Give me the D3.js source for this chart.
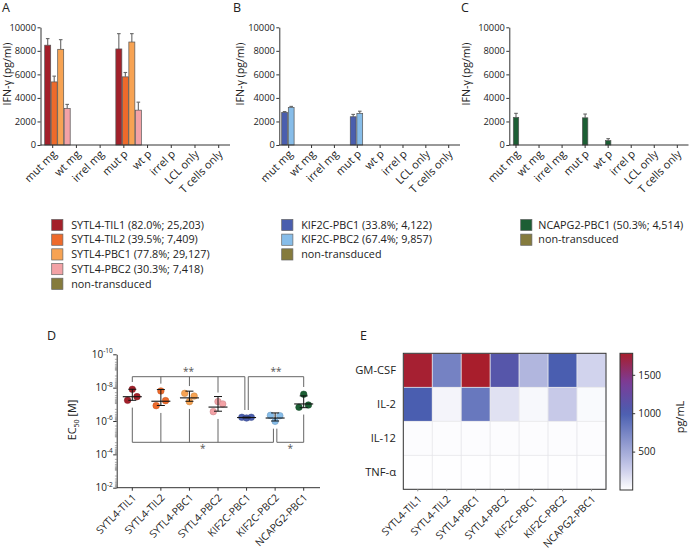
<!DOCTYPE html>
<html>
<head>
<meta charset="utf-8">
<script src="https://cdn.jsdelivr.net/npm/d3@7"></script>
<style>
body { margin: 0; background: #fff; }
svg { font-family: 'Open Sans', sans-serif; }
.axis path, .axis line { stroke: #333; stroke-width: 1; }
.axis text { font-size: 9.3px; fill: #222; font-family: 'Open Sans', sans-serif; }
.lbl { font-size: 11px; fill: #222; }
.letter { font-size: 12.5px; fill: #222; }
</style>
</head>
<body>
<svg id="fig" width="689" height="552"></svg>
<script>
// ---- data ----
const ifnCategories = ['mut mg', 'wt mg', 'irrel mg', 'mut p', 'wt p', 'irrel p', 'LCL only', 'T cells only'];
const ifnTicks = [0, 2000, 4000, 6000, 8000, 10000];

// panel A (IFN-g pg/ml, mean and SD per category)
const seriesA = ['SYTL4-TIL1 (82.0%; 25,203)', 'SYTL4-TIL2 (39.5%; 7,409)',
                 'SYTL4-PBC1 (77.8%; 29,127)', 'SYTL4-PBC2 (30.3%; 7,418)', 'non-transduced'];
const meanA = [
  [8480, 0, 0, 8160, 0, 0, 0, 0],
  [5360, 0, 0, 5790, 0, 0, 0, 0],
  [8130, 0, 0, 8750, 0, 0, 0, 0],
  [3110, 0, 0, 2960, 0, 0, 0, 0],
  [0, 0, 0, 0, 0, 0, 0, 0]
];
const sdA = [
  [560, 0, 0, 1300, 0, 0, 0, 0],
  [490, 0, 0, 370, 0, 0, 0, 0],
  [820, 0, 0, 710, 0, 0, 0, 0],
  [340, 0, 0, 680, 0, 0, 0, 0],
  [0, 0, 0, 0, 0, 0, 0, 0]
];

// panel B
const seriesB = ['KIF2C-PBC1 (33.8%; 4,122)', 'KIF2C-PBC2 (67.4%; 9,857)', 'non-transduced'];
const meanB = [
  [2770, 0, 0, 2400, 0, 0, 0, 0],
  [3190, 0, 0, 2690, 0, 0, 0, 0],
  [0, 0, 0, 0, 0, 0, 0, 0]
];
const sdB = [
  [70, 0, 0, 200, 0, 0, 0, 0],
  [90, 0, 0, 180, 0, 0, 0, 0],
  [0, 0, 0, 0, 0, 0, 0, 0]
];

// panel C
const seriesC = ['NCAPG2-PBC1 (50.3%; 4,514)', 'non-transduced'];
const meanC = [
  [2350, 0, 0, 2310, 370, 0, 0, 0],
  [0, 0, 0, 0, 0, 0, 0, 0]
];
const sdC = [
  [340, 0, 0, 320, 170, 0, 0, 0],
  [0, 0, 0, 0, 0, 0, 0, 0]
];

// panel D (EC50 in M, three replicates per TCR)
const tcrNames = ['SYTL4-TIL1', 'SYTL4-TIL2', 'SYTL4-PBC1', 'SYTL4-PBC2', 'KIF2C-PBC1', 'KIF2C-PBC2', 'NCAPG2-PBC1'];
const ec50Values = [
  [5.75e-8, 1.26e-8, 3.47e-8],
  [1.2e-7, 1.58e-8, 6.0e-8],
  [2.2e-8, 6.9e-8, 3.2e-8],
  [2.75e-7, 6.9e-8, 9.5e-8],
  [6.0e-7, 6.6e-7, 6.0e-7],
  [4.6e-7, 1.05e-6, 4.8e-7],
  [1.5e-7, 2.5e-8, 1.1e-7]
];
const ec50Ticks = [1e-10, 1e-8, 1e-6, 1e-4, 1e-2];
const sigBrackets = [
  {groups: [0, 1, 2, 3, 4], side: 'top', label: '**'},
  {groups: [4, 6], side: 'top', label: '**'},
  {groups: [0, 1, 2, 3, 5], side: 'bottom', label: '*'},
  {groups: [5, 6], side: 'bottom', label: '*'}
];

// panel E (pg/mL)
const cytokines = ['GM-CSF', 'IL-2', 'IL-12', 'TNF-α'];
const gmcsf = [1760, 760, 1780, 1100, 420, 1000, 240];
const il2 = [1000, 60, 830, 165, 40, 295, 30];
const il12 = [15, 15, 15, 15, 15, 15, 15];
const tnfa = [4, 4, 4, 4, 4, 4, 4];
const colorbarTicks = [500, 1000, 1500];
const colorbarMax = 1780;

// ---- styles ----
const colorsA = ['#a3202a', '#ee6a2b', '#f7a353', '#f3a2a6', '#857b3d'];
const colorsB = ['#4a5eae', '#87bde9', '#857b3d'];
const colorsC = ['#1c5e34', '#857b3d'];
const tcrColors = ['#a3202a', '#ee6a2b', '#f7a353', '#f3a2a6', '#4a5eae', '#87bde9', '#1c5e34'];

const svg = d3.select('#fig');

function addLetter(x, y, t) {
  svg.append('text').attr('class', 'letter').attr('x', x).attr('y', y).text(t);
}

function barPanel(p) {
  const y = d3.scaleLinear().domain([0, 10000]).range([p.y0, p.yTop]);
  const x = d3.scalePoint().domain(ifnCategories).range([p.first, p.last]);
  const g = svg.append('g');

  // bars with upward SD
  p.means.forEach((vals, s) => {
    vals.forEach((v, i) => {
      if (!v) return;
      const bx = x(ifnCategories[i]) + p.offset + s * p.step;
      const cx = bx + p.barW / 2;
      const top = y(v + p.sds[s][i]);
      g.append('line')
        .attr('x1', cx).attr('x2', cx)
        .attr('y1', y(v)).attr('y2', top)
        .style('stroke', '#666').style('stroke-width', 1.1);
      g.append('line')
        .attr('x1', cx - 1.8).attr('x2', cx + 1.8)
        .attr('y1', top).attr('y2', top)
        .style('stroke', '#666').style('stroke-width', 1.1);
      g.append('rect')
        .attr('x', bx).attr('y', y(v))
        .attr('width', p.barW).attr('height', y(0) - y(v))
        .style('fill', p.colors[s])
        .style('stroke', '#555').style('stroke-width', 0.7);
    });
  });

  // axes
  g.append('g')
    .attr('class', 'axis')
    .attr('transform', `translate(${p.axisX},0)`)
    .call(d3.axisLeft(y).tickValues(ifnTicks).tickSize(3).tickSizeOuter(0).tickPadding(1.5).tickFormat(d3.format('d')));
  g.append('line')
    .attr('x1', p.axisX).attr('x2', p.axisEnd)
    .attr('y1', p.y0).attr('y2', p.y0)
    .style('stroke', '#333');
  ifnCategories.forEach(c => {
    g.append('line')
      .attr('x1', x(c)).attr('x2', x(c))
      .attr('y1', p.y0).attr('y2', p.y0 + 3)
      .style('stroke', '#333');
    g.append('text')
      .attr('class', 'lbl')
      .attr('text-anchor', 'end')
      .attr('dy', '.35em')
      .attr('transform', `translate(${x(c) + 2},${p.y0 + 7}) rotate(-45)`)
      .text(c);
  });
  g.append('text')
    .attr('class', 'lbl')
    .attr('text-anchor', 'middle')
    .style('font-size', '10.6px')
    .attr('transform', `translate(${p.labelX},74) rotate(-90)`)
    .text('IFN-γ (pg/ml)');

  // legend
  const leg = g.selectAll('.leg')
    .data(p.series)
    .enter().append('g')
    .attr('transform', (_, i) => `translate(${p.legX},${225 + i * 14.7})`);
  leg.append('rect')
    .attr('x', 0).attr('y', -5.6)
    .attr('width', 11.2).attr('height', 11.2)
    .style('fill', (_, i) => p.colors[i])
    .style('stroke', '#666').style('stroke-width', 0.7);
  leg.append('text')
    .attr('class', 'lbl')
    .attr('x', p.legTextDx)
    .attr('dy', '.35em')
    .style('font-size', '10.8px')
    .text(d => d);
}

barPanel({means: meanA, sds: sdA, series: seriesA, colors: colorsA,
  axisX: 40.5, axisEnd: 230, first: 52.7, last: 218.7, y0: 145, yTop: 27.3,
  offset: -8, step: 6.5, barW: 6, labelX: 11, legX: 51.7, legTextDx: 19.5});
barPanel({means: meanB, sds: sdB, series: seriesB, colors: colorsB,
  axisX: 279.3, axisEnd: 460, first: 288.7, last: 448.7, y0: 145, yTop: 27.3,
  offset: -7, step: 6.6, barW: 5.8, labelX: 243.5, legX: 281.7, legTextDx: 19.5});
barPanel({means: meanC, sds: sdC, series: seriesC, colors: colorsC,
  axisX: 509.3, axisEnd: 688.5, first: 516, last: 677.3, y0: 145, yTop: 27.3,
  offset: -2.7, step: 6.6, barW: 5.4, labelX: 470, legX: 520.7, legTextDx: 17.6});

addLetter(2, 12, 'A');
addLetter(233, 12, 'B');
addLetter(461, 12, 'C');

// ---- panel D ----
function ec50Panel() {
  const left = 116.7, right = 320, top = 354.3, bottom = 487.7;
  const y = d3.scaleLog().domain([1e-10, 1e-2]).range([top, bottom]);
  const x = d3.scalePoint().domain(tcrNames).range([132.3, 303.7]);
  const g = svg.append('g');
  const r = 3.3;

  const stats = ec50Values.map(vals => {
    const m = d3.mean(vals);
    const sd = d3.deviation(vals);
    const ys = vals.map(v => y(v));
    return {m, sd, lo: m - sd, hi: m + sd,
      minY: Math.min(d3.min(ys) - r, y(m - sd)), maxY: Math.max(d3.max(ys) + r, y(m + sd))};
  });

  // significance brackets
  const bracketY = {top: 376.7, bottom: 442.3};
  sigBrackets.forEach(b => {
    const xs = b.groups.map((gi, k) => {
      let px = x(tcrNames[gi]);
      const last = k === b.groups.length - 1;
      const shared = sigBrackets.some(o => o !== b && o.side === b.side &&
        (last ? o.groups[0] === gi : o.groups[o.groups.length - 1] === gi));
      if (shared) px += last ? -1.7 : 1.7;
      return px;
    });
    const by = bracketY[b.side];
    g.append('line')
      .attr('x1', xs[0]).attr('x2', xs[xs.length - 1])
      .attr('y1', by).attr('y2', by)
      .style('stroke', '#666').style('stroke-width', 1);
    b.groups.forEach((gi, k) => {
      const end = b.side === 'top' ? stats[gi].minY - 4 : stats[gi].maxY + 4;
      g.append('line')
        .attr('x1', xs[k]).attr('x2', xs[k])
        .attr('y1', by).attr('y2', end)
        .style('stroke', '#666').style('stroke-width', 1);
    });
    g.append('text')
      .attr('x', (xs[0] + xs[xs.length - 1]) / 2)
      .attr('y', b.side === 'top' ? by - 2 : by + 10)
      .attr('text-anchor', 'middle')
      .style('font-size', '10px').style('fill', '#555')
      .text(b.label);
  });

  // points, mean and SD
  ec50Values.forEach((vals, gi) => {
    const cx = x(tcrNames[gi]);
    vals.forEach((v, k) => {
      g.append('circle')
        .attr('cx', cx + (k - 1) * 4.7).attr('cy', y(v)).attr('r', r)
        .style('fill', tcrColors[gi])
        .style('stroke', d3.color(tcrColors[gi]).darker(0.6)).style('stroke-width', 0.5);
    });
    const s = stats[gi];
    g.append('line')
      .attr('x1', cx - 9.5).attr('x2', cx + 9.5)
      .attr('y1', y(s.m)).attr('y2', y(s.m))
      .style('stroke', '#111').style('stroke-width', 1.1);
    g.append('line')
      .attr('x1', cx).attr('x2', cx)
      .attr('y1', y(s.hi)).attr('y2', y(s.lo))
      .style('stroke', '#111').style('stroke-width', 1);
    [s.hi, s.lo].forEach(v => {
      g.append('line')
        .attr('x1', cx - 4).attr('x2', cx + 4)
        .attr('y1', y(v)).attr('y2', y(v))
        .style('stroke', '#111').style('stroke-width', 1);
    });
  });

  // log y axis with minor ticks
  const minor = [];
  for (let e = -10; e < -2; e++) {
    for (let m = 2; m <= 9; m++) minor.push(m * Math.pow(10, e));
  }
  g.append('g')
    .attr('transform', `translate(${left},0)`)
    .selectAll('line')
    .data(minor)
    .enter().append('line')
    .attr('x1', -1.8).attr('x2', 0)
    .attr('y1', d => y(d)).attr('y2', d => y(d))
    .style('stroke', '#555').style('stroke-width', 0.5);
  g.append('g')
    .attr('class', 'axis')
    .attr('transform', `translate(${left},0)`)
    .call(d3.axisLeft(y).tickValues(ec50Ticks).tickSize(3.5).tickSizeOuter(0).tickFormat(''));
  ec50Ticks.forEach(t => {
    const tx = g.append('text')
      .attr('x', left - 4).attr('y', y(t) + 3.5)
      .attr('text-anchor', 'end')
      .style('font-size', '10px').style('fill', '#222');
    tx.append('tspan').text('10');
    tx.append('tspan')
      .attr('dy', -4.5)
      .style('font-size', '6.5px')
      .text(Math.round(Math.log10(t)));
  });
  g.append('line')
    .attr('x1', left).attr('x2', right)
    .attr('y1', bottom).attr('y2', bottom)
    .style('stroke', '#333');
  tcrNames.forEach(n => {
    g.append('line')
      .attr('x1', x(n)).attr('x2', x(n))
      .attr('y1', bottom).attr('y2', bottom + 3)
      .style('stroke', '#333');
    g.append('text')
      .attr('class', 'lbl')
      .attr('text-anchor', 'end')
      .attr('dy', '.35em')
      .style('font-size', '10.3px')
      .attr('transform', `translate(${x(n) + 2},${bottom + 8}) rotate(-45)`)
      .text(n);
  });
  const yl = g.append('text')
    .attr('class', 'lbl')
    .attr('text-anchor', 'middle')
    .attr('transform', `translate(76,420) rotate(-90)`)
    .style('font-size', '10.8px');
  yl.append('tspan').text('EC');
  yl.append('tspan').attr('dy', 3).style('font-size', '7px').text('50');
  yl.append('tspan').attr('dy', -3).text(' [M]');
}
ec50Panel();
addLetter(47, 340, 'D');

// ---- panel E ----
function heatPanel() {
  const rows = [gmcsf, il2, il12, tnfa];
  const left = 403.3, right = 606, top = 353.3, bottom = 489.3;
  const x = d3.scaleBand().domain(tcrNames).range([left, right]);
  const y = d3.scaleBand().domain(cytokines).range([top, bottom]);
  const color = d3.scaleLinear()
    .domain([0, 300, 1000, 1400, colorbarMax])
    .range(['#ffffff', '#c6c8e8', '#4a5eb0', '#7b3c98', '#a81e2c']);
  const g = svg.append('g');

  rows.forEach((vals, ri) => {
    vals.forEach((v, ci) => {
      g.append('rect')
        .attr('x', x(tcrNames[ci])).attr('y', y(cytokines[ri]))
        .attr('width', x.bandwidth()).attr('height', y.bandwidth())
        .style('fill', color(v))
        .style('stroke', '#e6e6ea').style('stroke-width', 0.7);
    });
  });
  g.append('rect')
    .attr('x', left).attr('y', top)
    .attr('width', right - left).attr('height', bottom - top)
    .style('fill', 'none').style('stroke', '#333').style('stroke-width', 1);

  cytokines.forEach(c => {
    g.append('text')
      .attr('x', 396).attr('y', y(c) + y.bandwidth() / 2)
      .attr('dy', '.35em')
      .attr('text-anchor', 'end')
      .style('font-size', '11.2px').style('fill', '#222')
      .text(c);
  });
  tcrNames.forEach(n => {
    const cx = x(n) + x.bandwidth() / 2;
    g.append('line')
      .attr('x1', cx).attr('x2', cx)
      .attr('y1', bottom).attr('y2', bottom + 2)
      .style('stroke', '#999');
    g.append('text')
      .attr('class', 'lbl')
      .attr('text-anchor', 'end')
      .attr('dy', '.35em')
      .style('font-size', '10.3px')
      .attr('transform', `translate(${cx + 2},${bottom + 8}) rotate(-45)`)
      .text(n);
  });

  // colour bar
  const cbL = 620, cbW = 12.7, cbTop = 353.3, cbBottom = 490;
  const cy = d3.scaleLinear().domain([0, colorbarMax]).range([cbBottom, cbTop]);
  const grad = svg.append('defs').append('linearGradient')
    .attr('id', 'cbar')
    .attr('x1', 0).attr('x2', 0).attr('y1', 1).attr('y2', 0);
  d3.range(0, 1.0001, 0.05).forEach(t => {
    grad.append('stop')
      .attr('offset', t)
      .attr('stop-color', color(t * colorbarMax));
  });
  g.append('rect')
    .attr('x', cbL).attr('y', cbTop)
    .attr('width', cbW).attr('height', cbBottom - cbTop)
    .style('fill', 'url(#cbar)')
    .style('stroke', '#333').style('stroke-width', 1);
  g.append('g')
    .attr('class', 'axis')
    .attr('transform', `translate(${cbL + cbW},0)`)
    .call(d3.axisRight(cy).tickValues(colorbarTicks).tickSize(2.5).tickSizeOuter(0).tickPadding(3).tickFormat(d3.format('d')))
    .call(a => a.select('.domain').remove())
    .selectAll('text').style('font-size', '10px');
  g.append('text')
    .attr('text-anchor', 'middle')
    .attr('transform', 'translate(684,417) rotate(-90)')
    .style('font-size', '11px').style('fill', '#222')
    .text('pg/mL');
}
heatPanel();
addLetter(360, 340, 'E');
</script>
</body>
</html>
